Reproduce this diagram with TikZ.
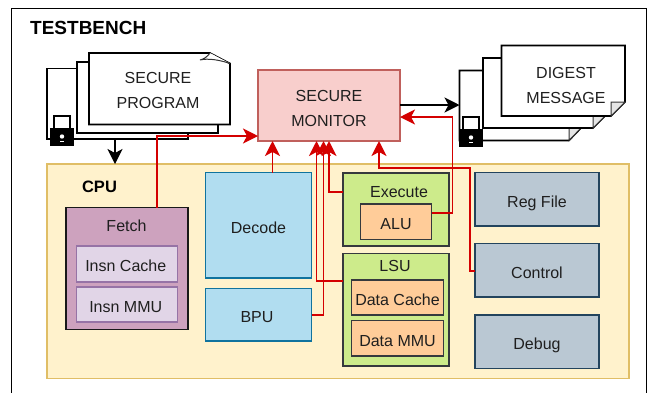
\documentclass[tikz,border=0pt]{standalone}
\usepackage{fontspec}
\setmainfont{Liberation Sans}
\usetikzlibrary{arrows.meta}
\definecolor{txt}{HTML}{1F1F1F}
\tikzset{
  lbl/.style={font=\fontsize{16}{18}\selectfont,text=txt,inner sep=0pt},
  box/.style={draw,line width=1.5pt,inner sep=0pt,outer sep=0pt,lbl},
  docbox/.style={draw=black,line width=1.6pt,fill=white,line join=miter},
  foldbox/.style={draw=black!80,line width=1pt,fill=black!10},
  monitorbox/.style={box,draw=B85450,fill=F8CECC},
  cpubox/.style={box,draw=D6B656,fill=FFF2CC},
  bluebox/.style={box,draw=blueedge,fill=bluefill},
  slatebox/.style={box,draw=slateedge,fill=slatefill},
  greenbox/.style={box,draw=darkedge,fill=greenfill},
  orangebox/.style={box,draw=darkedge,fill=orangefill},
  fetchbox/.style={box,draw=black!90,line width=1.8pt,fill=C9A0BC},
  mmubox/.style={box,draw=9673A6,fill=E1D5E7},
  redline/.style={draw=D40000,line width=1.7pt,line join=miter,-{Stealth[length=15pt,width=15pt,inset=4pt,fill=D40000]}},
  blackline/.style={draw=black,line width=1.6pt,-{Stealth[length=15pt,width=15pt,inset=4pt]}},
}
\definecolor{B85450}{HTML}{C0605C}
\definecolor{F8CECC}{HTML}{F8CECC}
\definecolor{D6B656}{HTML}{E0BE66}
\definecolor{FFF2CC}{HTML}{FFF2CC}
\definecolor{bluefill}{HTML}{B1DDF0}
\definecolor{blueedge}{HTML}{10739E}
\definecolor{slatefill}{HTML}{BAC8D3}
\definecolor{slateedge}{HTML}{23445D}
\definecolor{greenfill}{HTML}{CDEB8B}
\definecolor{orangefill}{HTML}{FFCC99}
\definecolor{darkedge}{HTML}{36393D}
\definecolor{C9A0BC}{HTML}{CDA2BE}
\definecolor{9673A6}{HTML}{9673A6}
\definecolor{E1D5E7}{HTML}{E1D5E7}
\definecolor{D40000}{HTML}{D40000}
% \cornerbox{style}{name}{x1}{y1}{x2}{y2}{text}
\newcommand{\cornerbox}[7]{%
  \pgfmathsetmacro{\cbw}{#5-#3}\pgfmathsetmacro{\cbh}{#6-#4}%
  \pgfmathsetmacro{\cbx}{(#3+#5)/2}\pgfmathsetmacro{\cby}{(#4+#6)/2}%
  \node[#1,minimum width=\cbw pt,minimum height=\cbh pt] (#2) at (\cbx,\cby) {\raisebox{0pt}[15.8pt][0pt]{#7}};}
\newcommand{\padlock}[2]{%
  \draw[black,line width=1.5pt,fill=white] (#1+4,#2) rectangle (#1+20,#2+13);
  \fill[black] (#1,#2+12) rectangle (#1+24,#2+30);
  \fill[white] (#1+12,#2+20.5) circle (2.2pt);
  \fill[white] (#1+10,#2+25) rectangle (#1+14,#2+26);}
\begin{document}
\begin{tikzpicture}[x=1pt,y=-1pt]
\useasboundingbox (0,0) rectangle (654,392);
\fill[white] (0,0) rectangle (654,392);
\begin{scope}
\clip (0,0) rectangle (654,392);
\draw[black,line width=1.5pt] (11.5,8.5) rectangle (646.5,400);
\end{scope}
\node[font=\bfseries\fontsize{19}{21}\selectfont,anchor=west,inner sep=0pt] (tb) at (30,27.5) {TESTBENCH};
% CPU
\cornerbox{cpubox}{cpu}{47}{164}{629}{378.5}{}
\node[font=\bfseries\fontsize{16.5}{18}\selectfont,inner sep=0pt] (cpulabel) at (99.5,187) {CPU};
% Secure program documents
\cornerbox{docbox}{progback}{47}{68.5}{188}{139}{}
\cornerbox{docbox}{progmid}{77}{62}{218}{133}{}
\draw[docbox] (89,53) -- (210,53) -- (230,63.5) -- (230,124.5) -- (89,124.5) -- cycle;
\draw[foldbox,fill=white] (210,53) .. controls (207,57) and (204,59) .. (200,60) .. controls (208,58) and (220,60) .. (230,63.5);
\node[lbl,align=center] (progtext) at (158,90.5) {SECURE\\[7pt]PROGRAM};
\padlock{50}{116}
% Digest documents
\draw[docbox] (459.5,70.5) -- (581,70.5) -- (581,128) -- (569,140.5) -- (459.5,140.5) -- cycle;
\coordinate (digback) at (459.5,105);
\draw[foldbox] (569,140.5) -- (569,128) -- (581,128) -- cycle;
\draw[docbox] (483,58) -- (605,58) -- (605,116) -- (593,128) -- (483,128) -- cycle;
\draw[foldbox] (593,128) -- (593,116) -- (605,116) -- cycle;
\draw[docbox] (501.5,45.5) -- (625,45.5) -- (625,102) -- (611,116) -- (501.5,116) -- cycle;
\draw[foldbox] (611,116) -- (611,102) -- (625,102) -- cycle;
\node[lbl,align=center] (digtext) at (566,85.5) {DIGEST\\[7pt]MESSAGE};
\padlock{459}{117}
% Monitor
\cornerbox{monitorbox}{mon}{258}{70}{400}{141}{}
\node[lbl,align=center] (montext) at (329,108.5) {SECURE\\[7pt]MONITOR};
% Fetch
\cornerbox{fetchbox}{fetch}{66}{207.5}{188}{329.5}{}
\node[lbl] (fetchlabel) at (126.5,226) {Fetch};
\cornerbox{mmubox}{icache}{76.5}{246}{177.5}{282}{Insn Cache\hspace*{2.5pt}}
\cornerbox{mmubox}{immu}{76.5}{287}{177.5}{322}{Insn MMU\hspace*{2.5pt}}
% Decode & BPU
\cornerbox{bluebox}{decode}{205.5}{172.5}{311.5}{278}{Decode}
\cornerbox{bluebox}{bpu}{205.5}{288.5}{311.5}{341}{BPU\hspace*{3pt}}
% Execute
\cornerbox{greenbox}{exec}{343}{173}{449}{246}{}
\node[lbl] (execlabel) at (399,192.5) {Execute};
\cornerbox{orangebox}{alu}{360.5}{204}{431.5}{239.5}{ALU}
% LSU
\cornerbox{greenbox}{lsu}{343}{253.5}{449}{366}{}
\node[lbl] (lsulabel) at (395,266) {LSU};
\cornerbox{orangebox}{dcache}{351.5}{280}{443.5}{315}{Data Cache}
\cornerbox{orangebox}{dmmu}{351.5}{320.5}{443.5}{356}{Data MMU}
% Right column
\cornerbox{slatebox}{regfile}{475}{172.5}{599}{226}{Reg File}
\cornerbox{slatebox}{control}{475}{243.5}{599}{297}{Control}
\cornerbox{slatebox}{debug}{475}{315}{599}{368.5}{Debug}
% Connectors
\draw[blackline] (progback.south -| 115,0) -- (cpu.north -| 115,0);
\draw[blackline] (mon.east |- 0,105) -- (digback);
\draw[redline] (fetch.north -| 157,0) -- (157,136) -- (mon.west |- 0,136);
\draw[redline] (decode.north -| 272.5,0) -- (mon.south -| 272.5,0);
\draw[redline] (lsu.west |- 0,281) -- (316.5,281) -- (mon.south -| 316.5,0);
\draw[redline] (bpu.east |- 0,315) -- (323.5,315) -- (mon.south -| 323.5,0);
\draw[redline] (exec.west |- 0,192) -- (329,192) -- (mon.south -| 329,0);
\draw[redline] (alu.east |- 0,213) -- (452.5,213) -- (452.5,117) -- (mon.east |- 0,117);
\draw[redline] (control.west |- 0,271) -- (470,271) -- (470,168) -- (379,168) -- (mon.south -| 379,0);
\end{tikzpicture}
\end{document}
